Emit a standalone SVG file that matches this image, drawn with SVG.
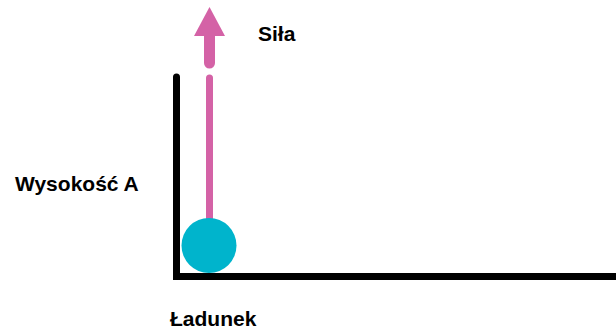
<svg xmlns="http://www.w3.org/2000/svg" width="616" height="333" viewBox="0 0 616 333">
<style>
.lbl{font-family:"Liberation Sans",Arial,sans-serif;font-weight:bold;font-size:21px;fill:#000}
.axis{stroke:#000;stroke-width:7;fill:none}
.pink{stroke:#d462a6;fill:none;stroke-linecap:round}
</style>
<rect width="616" height="333" fill="#fff"/>
<g id="connectors">
<path class="axis" d="M176.5 77 V276.5 H616" stroke-linecap="round" stroke-linejoin="miter"/>
<line class="pink" x1="209.5" y1="78" x2="209.5" y2="225" stroke-width="7"/>
<line class="pink" x1="209.5" y1="34" x2="209.5" y2="63" stroke-width="11"/>
<polygon points="209.5,7 194,36 225,36" fill="#d462a6"/>
</g>
<g id="charge"><circle cx="209" cy="245.5" r="27.5" fill="#00b4cc"/></g>
<g id="label-force"><text class="lbl" x="258" y="41">Siła</text></g>
<g id="label-height"><text class="lbl" x="15" y="191">Wysokość A</text></g>
<g id="label-charge"><text class="lbl" x="170" y="326">Ładunek</text></g>
</svg>
